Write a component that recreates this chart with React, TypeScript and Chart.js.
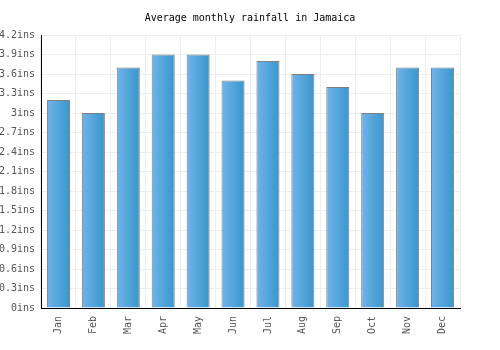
import React, { useEffect, useRef } from "react";
import { Chart, registerables } from "chart.js";

Chart.register(...registerables);

const months = ["Jan", "Feb", "Mar", "Apr", "May", "Jun", "Jul", "Aug", "Sep", "Oct", "Nov", "Dec"];
const rainfall = [3.2, 3.0, 3.7, 3.9, 3.9, 3.5, 3.8, 3.6, 3.4, 3.0, 3.7, 3.7];
const yMax = 4.2;
const yStep = 0.3;
const BAR_PCT = 0.66;
const TITLE = "Average monthly rainfall in Jamaica";
const FONT_FAMILY = "'DejaVu Sans Mono', monospace";

const titlePlugin = {
  id: "centerTitle",
  afterDraw(chart: any) {
    const ctx = chart.ctx;
    ctx.save();
    ctx.font = `10px ${FONT_FAMILY}`;
    ctx.fillStyle = "#000";
    ctx.textAlign = "center";
    ctx.textBaseline = "middle";
    ctx.fillText(TITLE, chart.width / 2, 18);
    ctx.restore();
  },
};

export default function App() {
  const ref = useRef<HTMLCanvasElement>(null);
  useEffect(() => {
    const canvas = ref.current!;
    const font = { family: FONT_FAMILY, size: 10 };
    const chart = new Chart(canvas, {
      type: "bar",
      data: {
        labels: months,
        datasets: [
          {
            data: rainfall,
            borderColor: "#808080",
            borderWidth: 1,
            barPercentage: BAR_PCT,
            categoryPercentage: 1,
            backgroundColor: (c: any) => {
              const ch = c.chart;
              const xs = ch.scales?.x;
              if (!xs || c.dataIndex === undefined) return "#4aa3dc";
              const cx = xs.getPixelForValue(c.dataIndex);
              const w = (xs.width / months.length) * BAR_PCT;
              if (!isFinite(cx) || !isFinite(w) || w <= 0) return "#4aa3dc";
              const g = ch.ctx.createLinearGradient(cx - w / 2, 0, cx + w / 2, 0);
              g.addColorStop(0, "#70b4ea");
              g.addColorStop(1, "#3896cc");
              return g;
            },
          },
        ],
      },
      plugins: [titlePlugin],
      options: {
        responsive: false,
        animation: false,
        layout: { padding: { left: 0, right: 40, top: 35, bottom: 0 } },
        plugins: {
          legend: { display: false },
          tooltip: { enabled: false },
          title: { display: false },
        },
        scales: {
          x: {
            offset: true,
            grid: { color: "#eeeeee", offset: true, drawTicks: false },
            border: { color: "#000", width: 1 },
            ticks: { color: "#555", font, maxRotation: 90, minRotation: 90, padding: 8 },
            afterFit: (s: any) => {
              s.height = 42;
            },
          },
          y: {
            min: 0,
            max: yMax,
            grid: { color: "#eeeeee", drawTicks: false },
            border: { color: "#000", width: 1 },
            ticks: {
              stepSize: yStep,
              color: "#555",
              font,
              padding: 6,
              callback: (v: any) => `${Math.round(Number(v) * 10) / 10}ins`,
            },
            afterFit: (s: any) => {
              s.width = 41;
            },
          },
        },
      },
    });
    return () => chart.destroy();
  }, []);
  return (
    <div style={{ position: "absolute", left: 0, top: 0, width: 500, height: 350, background: "#fff" }}>
      <canvas ref={ref} width={500} height={350} />
    </div>
  );
}
